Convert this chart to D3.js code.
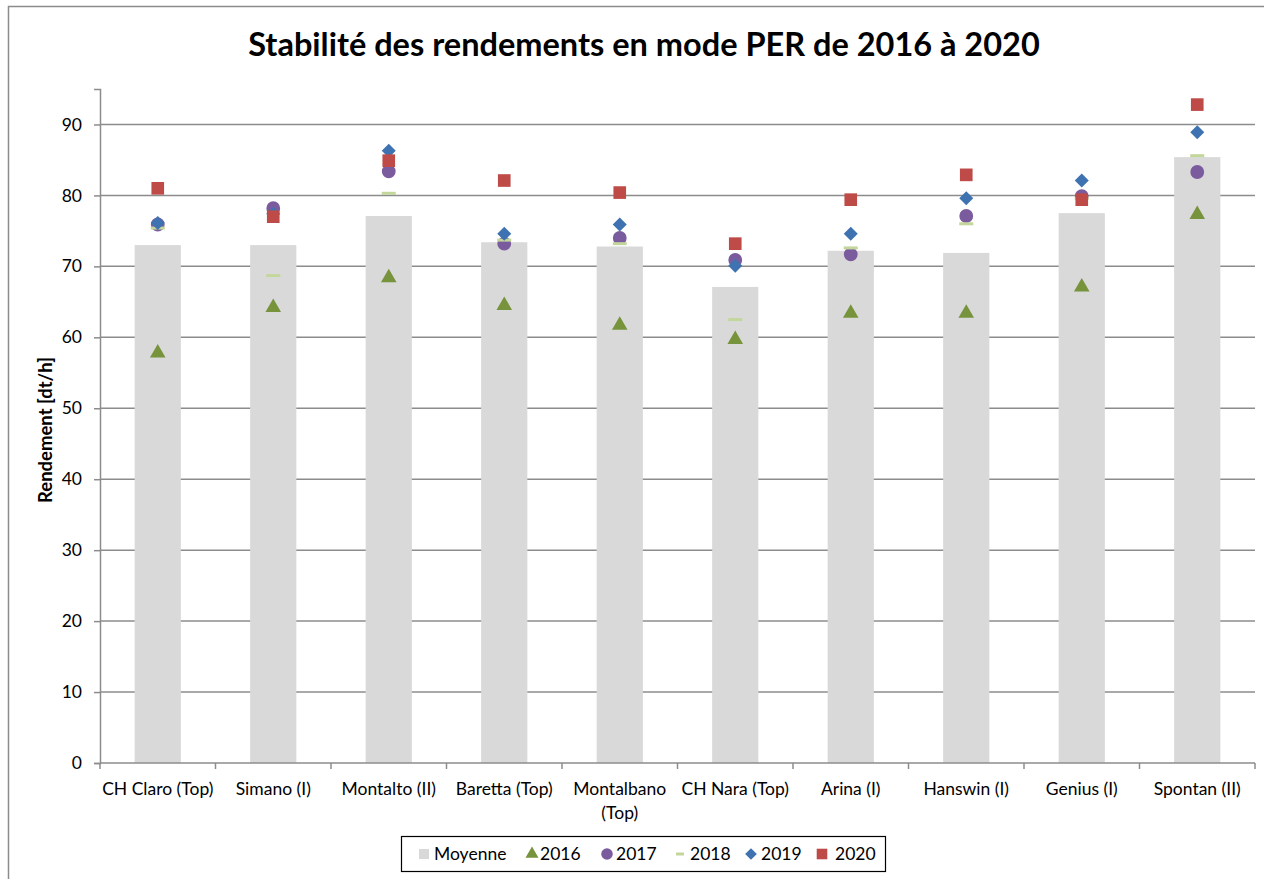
<!DOCTYPE html>
<html>
<head>
<meta charset="utf-8">
<script src="https://cdn.jsdelivr.net/npm/d3@7"></script>
<style>
  body { margin: 0; background: #fff; }
  svg text { font-family: Lato, "Open Sans", sans-serif; fill: #000; }
</style>
</head>
<body>
<svg id="chart" width="1264" height="879"></svg>
<script>
// values
const categories = ["CH Claro (Top)", "Simano (I)", "Montalto (II)", "Baretta (Top)", "Montalbano (Top)",
  "CH Nara (Top)", "Arina (I)", "Hanswin (I)", "Genius (I)", "Spontan (II)"];
const moyenne = [73.0, 73.0, 77.1, 73.4, 72.8, 67.1, 72.2, 71.9, 77.5, 85.4];
const y2016 = [57.8, 64.2, 68.4, 64.5, 61.7, 59.7, 63.4, 63.4, 67.1, 77.3];
const y2017 = [75.9, 78.2, 83.4, 73.2, 74.0, 70.9, 71.7, 77.1, 79.9, 83.3];
const y2018 = [75.4, 68.7, 80.3, 73.7, 73.2, 62.5, 72.6, 76.0, 79.6, 85.6];
const y2019 = [76.1, 77.4, 86.3, 74.6, 75.9, 70.1, 74.6, 79.6, 82.1, 88.9];
const y2020 = [81.0, 77.0, 84.9, 82.1, 80.4, 73.2, 79.4, 82.9, 79.4, 92.8];
const yTicks = [0, 10, 20, 30, 40, 50, 60, 70, 80, 90];

const svg = d3.select("#chart");
const margin = {top: 89, right: 9, bottom: 116, left: 100};
const width = 1264 - margin.left - margin.right,
      height = 879 - margin.top - margin.bottom;

// outer chart border
svg.append("rect")
  .attr("x", 8.5).attr("y", 6.5)
  .attr("width", 1300).attr("height", 1000)
  .attr("fill", "none").attr("stroke", "#8c8c8c").attr("stroke-width", 1.5);

svg.append("text")
  .attr("x", 644).attr("y", 56)
  .attr("text-anchor", "middle")
  .style("font-size", "32.5px").style("font-weight", "bold")
  .text("Stabilité des rendements en mode PER de 2016 à 2020");

const g = svg.append("g").attr("transform", "translate(" + margin.left + "," + margin.top + ")");

let x = d3.scaleBand().domain(categories).range([0, width]).padding(0),
    y = d3.scaleLinear().domain([0, 95]).range([height, 0]);

// gridlines
g.selectAll(".grid").data(yTicks.slice(1)).enter()
  .append("line")
  .attr("x1", 0).attr("x2", width)
  .attr("y1", d => y(d)).attr("y2", d => y(d))
  .attr("stroke", "#8c8c8c").attr("stroke-width", 1.5);

// Moyenne bars
let barW = x.bandwidth() * 0.4;
g.selectAll(".bar").data(moyenne).enter()
  .append("rect")
  .attr("x", (d, i) => x(categories[i]) + (x.bandwidth() - barW) / 2)
  .attr("y", d => y(d))
  .attr("width", barW)
  .attr("height", d => height - y(d))
  .attr("fill", "#d9d9d9");

// y axis
let yAxis = d3.axisLeft(y).tickValues(yTicks).tickSize(6).tickPadding(12);
let ya = g.append("g").call(yAxis);
ya.attr("font-family", null).attr("font-size", null);
ya.select(".domain").attr("stroke", "#8c8c8c").attr("stroke-width", 1.5);
ya.selectAll(".tick line").attr("stroke", "#8c8c8c").attr("stroke-width", 1.5);
ya.selectAll("text").style("font-size", "17.5px");

// x axis
let xa = g.append("g").attr("transform", "translate(0," + height + ")");
xa.append("line").attr("x1", 0).attr("x2", width)
  .attr("stroke", "#8c8c8c").attr("stroke-width", 1.5);
xa.selectAll(".xt").data(d3.range(categories.length + 1)).enter()
  .append("line")
  .attr("x1", i => i * x.step()).attr("x2", i => i * x.step())
  .attr("y1", 0).attr("y2", 6)
  .attr("stroke", "#8c8c8c").attr("stroke-width", 1.5);
xa.selectAll(".xl").data(categories).enter()
  .append("text")
  .attr("text-anchor", "middle")
  .style("font-size", "17.5px")
  .attr("x", d => x(d) + x.bandwidth() / 2)
  .attr("y", 32)
  .each(function(d) {
    let t = d3.select(this);
    if (d === "Montalbano (Top)") {
      t.append("tspan").attr("x", x(d) + x.bandwidth() / 2).text("Montalbano");
      t.append("tspan").attr("x", x(d) + x.bandwidth() / 2).attr("dy", 24).text("(Top)");
    } else t.text(d);
  });

// y label, font size fitted so it spans ~146px like the original
let yl = svg.append("text")
  .attr("transform", "translate(52,430) rotate(-90)")
  .attr("text-anchor", "middle")
  .style("font-size", "17px").style("font-weight", "bold")
  .text("Rendement [dt/h]");
let ylw = yl.node().getComputedTextLength();
if (ylw > 0) yl.style("font-size", Math.min(19, 17 * 146 / ylw) + "px");

// diamond as a square turned 45 degrees
const symbolRhomb = {
  draw(ctx, size) {
    let r = Math.sqrt(size / 2);
    ctx.moveTo(0, -r); ctx.lineTo(r, 0); ctx.lineTo(0, r); ctx.lineTo(-r, 0); ctx.closePath();
  }
};

// marker series
const series = [
  {name: "2016", data: y2016, sym: d3.symbolTriangle, size: 105, color: "#77933c"},
  {name: "2017", data: y2017, sym: d3.symbolCircle, size: 150, color: "#7a5c9e"},
  {name: "2018", data: y2018, sym: "dash", color: "#c3d69b"},
  {name: "2019", data: y2019, sym: symbolRhomb, size: 98, color: "#3f72b0"},
  {name: "2020", data: y2020, sym: d3.symbolSquare, size: 160, color: "#be4b48"}
];

const drawMarker = (sel, s) => {
  if (s.sym === "dash") {
    sel.append("rect").attr("x", -7).attr("y", -1.5).attr("width", 14).attr("height", 3).attr("fill", s.color);
  } else {
    sel.append("path").attr("d", d3.symbol().type(s.sym).size(s.size)()).attr("fill", s.color);
  }
};

series.forEach(s => {
  g.selectAll(".m" + s.name).data(s.data).enter()
    .append("g")
    .attr("transform", (d, i) => "translate(" + (x(categories[i]) + x.bandwidth() / 2) + "," + y(d) + ")")
    .each(function() { drawMarker(d3.select(this), s); });
});

// legend
let lg = svg.append("g");
lg.append("rect").attr("x", 401.5).attr("y", 836.5).attr("width", 484).attr("height", 35)
  .attr("fill", "#fff").attr("stroke", "#000").attr("stroke-width", 1.2);
const legendItems = [{name: "Moyenne", sym: "bar", color: "#d9d9d9"}].concat(series);
const legendX = [424, 532, 607, 680, 751, 822];
const legendTextX = [434, 540, 616, 690, 761, 835];
legendItems.forEach((s, i) => {
  let it = lg.append("g").attr("transform", "translate(" + legendX[i] + ",854)");
  if (s.sym === "bar") it.append("rect").attr("x", -5).attr("y", -5).attr("width", 10).attr("height", 10).attr("fill", s.color);
  else if (s.sym === "dash") it.append("rect").attr("x", -4).attr("y", -1.5).attr("width", 8).attr("height", 3).attr("fill", s.color);
  else it.append("path").attr("d", d3.symbol().type(s.sym).size(s.size * 0.7)()).attr("fill", s.color);
  it.append("text").attr("x", legendTextX[i] - legendX[i]).attr("dy", "0.35em")
    .style("font-size", "17.5px").text(s.name);
});
</script>
</body>
</html>
